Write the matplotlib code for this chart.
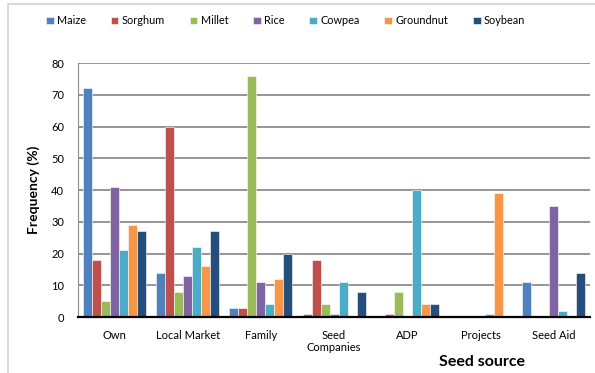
import numpy as np
import matplotlib.pyplot as plt
from matplotlib.patches import Rectangle

plt.rcParams['font.family'] = ['Lato', 'DejaVu Sans']

sources = ["Own", "Local Market", "Family", "Seed\nCompanies", "ADP", "Projects", "Seed Aid"]
crops = ["Maize", "Sorghum", "Millet", "Rice", "Cowpea", "Groundnut", "Soybean"]

maize     = [72, 14, 3, 1, 0, 0, 11]
sorghum   = [18, 60, 3, 18, 1, 0, 0]
millet    = [5, 8, 76, 4, 8, 0, 0]
rice      = [41, 13, 11, 1, 0, 0, 35]
cowpea    = [21, 22, 4, 11, 40, 1, 2]
groundnut = [29, 16, 12, 0, 4, 39, 0]
soybean   = [27, 27, 20, 8, 4, 0, 14]

series = [maize, sorghum, millet, rice, cowpea, groundnut, soybean]
color_list = ['#4F81BD', '#C0504D', '#9BBB59', '#8064A2', '#4BACC6', '#F79646', '#254E7D']

fig = plt.figure(figsize=(5.95, 3.73), dpi=100)
ax = fig.add_axes([0.131, 0.150, 0.861, 0.681])

x = np.arange(len(sources))
w = 0.123
for i, vals in enumerate(series):
    ax.bar(x + (i - 3) * w, vals, width=w, color=color_list[i], label=crops[i],
           edgecolor='white', linewidth=0.4, zorder=3)

ax.set_xlim(-0.5, len(sources) - 0.5)
ax.set_ylim(0, 80)
ax.set_yticks(range(0, 81, 10))
ax.yaxis.grid(True, color='#8c8c8c', lw=1.3, zorder=0)
ax.set_xticks(x)
ax.set_xticklabels(sources, fontsize=8)
ax.tick_params(axis='both', length=0, labelsize=8)
ax.tick_params(axis='x', pad=9)
ax.tick_params(axis='y', pad=10)
for s in ['top', 'right']:
    ax.spines[s].set_visible(False)
ax.spines['left'].set_color('#8c8c8c')
ax.spines['bottom'].set_color('black')
ax.spines['bottom'].set_linewidth(1.6)
ax.spines['bottom'].set_zorder(4)

ax.set_ylabel("Frequency (%)", fontsize=10, fontweight='bold', labelpad=8)
fig.text(0.81, 0.018, "Seed source", fontsize=11.5, fontweight='bold', ha='center')

fig.legend(loc='upper center', bbox_to_anchor=(0.48, 0.985), ncol=7, frameon=False,
           fontsize=7.8, handlelength=0.7, handleheight=0.7, handletextpad=0.3,
           columnspacing=2.3)

fig.patches.append(Rectangle((0.014, -0.1), 1.2, 1.09, transform=fig.transFigure,
                             fill=False, edgecolor='#d0d0d0', lw=1.2))

fig.savefig('out.png', dpi=100)
